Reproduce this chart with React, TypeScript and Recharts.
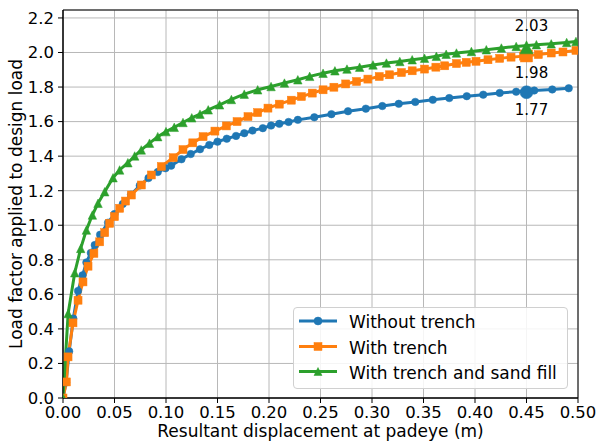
import React from 'react';
import {
  ComposedChart,
  Line,
  XAxis,
  YAxis,
  CartesianGrid,
  ReferenceArea,
  Legend,
  Label,
} from 'recharts';

const FONT = '"DejaVu Sans", sans-serif';

// Without trench
const blueX = [0, 0.003, 0.006, 0.01, 0.0146, 0.019, 0.0227, 0.027, 0.0308, 0.036, 0.0437, 0.05, 0.058, 0.066, 0.0745, 0.083, 0.092, 0.0995, 0.105, 0.115, 0.124, 0.133, 0.142, 0.15, 0.159, 0.168, 0.176, 0.184, 0.194, 0.202, 0.21, 0.219, 0.228, 0.244, 0.2606, 0.2767, 0.294, 0.31, 0.326, 0.342, 0.359, 0.375, 0.392, 0.408, 0.424, 0.44, 0.4575, 0.475, 0.491];
const blueY = [0, 0.09, 0.27, 0.46, 0.62, 0.71, 0.785, 0.84, 0.885, 0.945, 1.015, 1.065, 1.123, 1.177, 1.23, 1.273, 1.308, 1.33, 1.345, 1.382, 1.412, 1.44, 1.465, 1.484, 1.501, 1.517, 1.533, 1.548, 1.562, 1.577, 1.587, 1.598, 1.61, 1.625, 1.643, 1.66, 1.675, 1.69, 1.703, 1.714, 1.726, 1.736, 1.747, 1.756, 1.766, 1.773, 1.78, 1.786, 1.793];

// With trench
const orangeX = [0, 0.0033, 0.0049, 0.0097, 0.0146, 0.0194, 0.0243, 0.03, 0.0356, 0.0405, 0.0453, 0.05, 0.055, 0.0607, 0.0664, 0.0761, 0.0858, 0.0955, 0.107, 0.1165, 0.126, 0.136, 0.1475, 0.1586, 0.169, 0.1796, 0.189, 0.199, 0.21, 0.2217, 0.2315, 0.242, 0.2525, 0.263, 0.2745, 0.285, 0.296, 0.307, 0.317, 0.3286, 0.339, 0.351, 0.362, 0.3706, 0.382, 0.3915, 0.401, 0.4126, 0.424, 0.435, 0.447, 0.4615, 0.474, 0.4854, 0.498];
const orangeY = [0, 0.093, 0.238, 0.435, 0.566, 0.672, 0.763, 0.837, 0.904, 0.957, 1.011, 1.05, 1.098, 1.14, 1.175, 1.233, 1.291, 1.34, 1.391, 1.438, 1.477, 1.513, 1.545, 1.575, 1.6, 1.629, 1.652, 1.678, 1.701, 1.724, 1.745, 1.765, 1.784, 1.799, 1.818, 1.832, 1.846, 1.861, 1.871, 1.884, 1.894, 1.904, 1.915, 1.923, 1.936, 1.943, 1.949, 1.958, 1.966, 1.973, 1.979, 1.988, 1.997, 2.003, 2.012];

// With trench and sand fill
const greenX = [0, 0.005, 0.0114, 0.0172, 0.0227, 0.0285, 0.034, 0.0405, 0.0486, 0.055, 0.063, 0.0696, 0.076, 0.084, 0.092, 0.1, 0.108, 0.1165, 0.125, 0.133, 0.141, 0.152, 0.1635, 0.176, 0.189, 0.202, 0.215, 0.228, 0.2395, 0.2525, 0.264, 0.2757, 0.288, 0.301, 0.314, 0.327, 0.339, 0.351, 0.3625, 0.372, 0.382, 0.3965, 0.411, 0.4256, 0.44, 0.4596, 0.474, 0.489, 0.498];
const greenY = [0, 0.489, 0.725, 0.866, 0.972, 1.059, 1.127, 1.194, 1.275, 1.32, 1.362, 1.401, 1.436, 1.475, 1.513, 1.542, 1.567, 1.595, 1.622, 1.643, 1.668, 1.697, 1.728, 1.759, 1.784, 1.803, 1.823, 1.842, 1.862, 1.88, 1.894, 1.904, 1.915, 1.928, 1.939, 1.948, 1.958, 1.967, 1.978, 1.99, 1.997, 2.006, 2.016, 2.026, 2.035, 2.045, 2.05, 2.058, 2.064];

// Highlighted points at x = 0.45
const highlightX = 0.45;
const highlightY = [1.77, 1.98, 2.03];
const highlightLabels = ['1.77', '1.98', '2.03'];

const seriesNames = ['Without trench', 'With trench', 'With trench and sand fill'];
const colors = ['#1f77b4', '#ff7f0e', '#2ca02c'];

const xTicks = [0, 0.05, 0.1, 0.15, 0.2, 0.25, 0.3, 0.35, 0.4, 0.45, 0.5];
const yTicks = [0, 0.2, 0.4, 0.6, 0.8, 1.0, 1.2, 1.4, 1.6, 1.8, 2.0, 2.2];
const X_MAX = 0.5;
const Y_MAX = 2.246;

const toPoints = (xs: number[], ys: number[]) => xs.map((x, i) => ({ x, y: ys[i] }));
const blueData = toPoints(blueX, blueY);
const orangeData = toPoints(orangeX, orangeY);
const greenData = toPoints(greenX, greenY);

type Shape = 'circle' | 'square' | 'triangle';

const marker = (shape: Shape, cx: number, cy: number, size: number, color: string, key?: any) => {
  const h = size / 2;
  if (shape === 'circle') return <circle key={key} cx={cx} cy={cy} r={h} fill={color} stroke={color} strokeWidth={0.5} />;
  if (shape === 'square') return <rect key={key} x={cx - h} y={cy - h} width={size} height={size} fill={color} stroke={color} strokeWidth={0.5} />;
  return (
    <path
      key={key}
      d={`M${cx},${cy - h} L${cx - h},${cy + h} L${cx + h},${cy + h} Z`}
      fill={color}
      stroke={color}
      strokeWidth={0.5}
    />
  );
};

const makeDot = (shape: Shape, size: number, color: string) => (props: any) => {
  const { cx, cy, index } = props;
  if (cx == null || cy == null) return <g key={`e${index}`} />;
  return marker(shape, cx, cy, size, color, `d${index}`);
};

const shapes: Shape[] = ['circle', 'square', 'triangle'];
const labelOffsets = [18, 17, -21];

const makeHighlightDot = (i: number) => (props: any) => {
  const { cx, cy, index } = props;
  if (cx == null || cy == null) return <g key={`h${index}`} />;
  const size = i === 0 ? 13 : i === 1 ? 12 : 13;
  return (
    <g key={`h${i}-${index}`}>
      {marker(shapes[i], cx, cy, size, colors[i])}
      <text
        x={cx + 5}
        y={cy + labelOffsets[i]}
        textAnchor="middle"
        dominantBaseline="central"
        fontFamily={FONT}
        fontSize={15}
        fill="#000"
      >
        {highlightLabels[i]}
      </text>
    </g>
  );
};

const LegendBox = () => {
  const rows = [14, 39.5, 64.5];
  return (
    <div
      style={{
        width: 275,
        height: 82,
        boxSizing: 'border-box',
        border: '1px solid #d0d0d0',
        borderRadius: 4,
        background: 'rgba(255,255,255,0.85)',
      }}
    >
      <svg width={273} height={80} style={{ display: 'block' }}>
        {seriesNames.map((name, i) => (
          <g key={name}>
            <line x1={5} x2={43} y1={rows[i] - 1} y2={rows[i] - 1} stroke={colors[i]} strokeWidth={3} />
            {marker(shapes[i], 24, rows[i] - 1, 8, colors[i])}
            <text
              x={55}
              y={rows[i]}
              dominantBaseline="central"
              fontFamily={FONT}
              fontSize={17}
              fill="#000"
            >
              {name}
            </text>
          </g>
        ))}
      </svg>
    </div>
  );
};

export default function App() {
  const tickStyle = { fill: '#000', fontSize: 16.5, fontFamily: FONT };
  return (
    <div style={{ position: 'absolute', left: 0, top: 0, width: 599, height: 446, background: '#fff' }}>
      <ComposedChart width={599} height={446} margin={{ top: 10, right: 21, bottom: 0, left: 0 }}>
        <CartesianGrid stroke="#b8b8b8" strokeWidth={1} />
        <XAxis
          type="number"
          dataKey="x"
          domain={[0, X_MAX]}
          ticks={xTicks}
          allowDataOverflow
          interval={0}
          height={48}
          tickSize={5}
          tickMargin={3}
          tick={tickStyle}
          tickFormatter={(v: number) => v.toFixed(2)}
          axisLine={{ stroke: '#000' }}
          tickLine={{ stroke: '#000' }}
        >
          <Label
            content={() => (
              <text x={320.5} y={437} textAnchor="middle" fontFamily={FONT} fontSize={17} fill="#000">
                Resultant displacement at padeye (m)
              </text>
            )}
          />
        </XAxis>
        <YAxis
          type="number"
          dataKey="y"
          domain={[0, Y_MAX]}
          ticks={yTicks}
          allowDataOverflow
          interval={0}
          width={63}
          tickSize={5}
          tickMargin={4}
          tick={tickStyle}
          tickFormatter={(v: number) => v.toFixed(1)}
          axisLine={{ stroke: '#000' }}
          tickLine={{ stroke: '#000' }}
        >
          <Label
            content={() => (
              <text
                x={15.5}
                y={204}
                transform="rotate(-90 15.5 204)"
                textAnchor="middle"
                dominantBaseline="central"
                fontFamily={FONT}
                fontSize={17}
                fill="#000"
              >
                Load factor applied to design load
              </text>
            )}
          />
        </YAxis>
        <Line
          data={blueData}
          dataKey="y"
          name={seriesNames[0]}
          stroke={colors[0]}
          strokeWidth={3}
          dot={makeDot('circle', 7.5, colors[0])}
          activeDot={false}
          isAnimationActive={false}
          type="linear"
        />
        <Line
          data={orangeData}
          dataKey="y"
          name={seriesNames[1]}
          stroke={colors[1]}
          strokeWidth={3}
          dot={makeDot('square', 8, colors[1])}
          activeDot={false}
          isAnimationActive={false}
          type="linear"
        />
        <Line
          data={greenData}
          dataKey="y"
          name={seriesNames[2]}
          stroke={colors[2]}
          strokeWidth={3}
          dot={makeDot('triangle', 8.5, colors[2])}
          activeDot={false}
          isAnimationActive={false}
          type="linear"
        />
        {highlightY.map((v, i) => (
          <Line
            key={`hl${i}`}
            data={[{ x: highlightX, y: v }]}
            dataKey="y"
            stroke="none"
            legendType="none"
            dot={makeHighlightDot(i)}
            activeDot={false}
            isAnimationActive={false}
          />
        ))}
        <ReferenceArea
          x1={0}
          x2={X_MAX}
          y1={0}
          y2={Y_MAX}
          fill="none"
          fillOpacity={0}
          stroke="#000"
          strokeWidth={1}
          ifOverflow="visible"
        />
        <Legend
          layout="vertical"
          align="center"
          verticalAlign="middle"
          content={() => <LegendBox />}
          wrapperStyle={{ left: 293, top: 307, width: 275, height: 82 }}
        />
      </ComposedChart>
    </div>
  );
}
